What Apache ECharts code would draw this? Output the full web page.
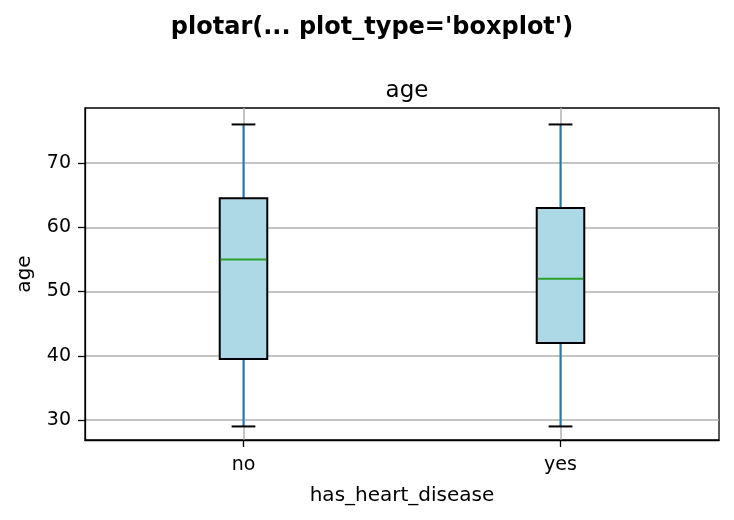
<!DOCTYPE html>
<html>
<head>
<meta charset="utf-8">
<script src="https://cdn.jsdelivr.net/npm/echarts@6/dist/echarts.min.js"></script>
<style>
  html, body { margin: 0; padding: 0; background: #fff; }
  #chart { width: 734px; height: 520px; }
</style>
</head>
<body>
<div id="chart"></div>
<script>
// 数据
var categories = ['no', 'yes'];
var whiskerLow = [29, 29];
var q1 = [39.5, 42];
var median = [55, 52];
var q3 = [64.5, 63];
var whiskerHigh = [76, 76];
var yTicks = [30, 40, 50, 60, 70];

(function () {
    var myChart = echarts.init(document.getElementById('chart'));
    var font = 'DejaVu Sans';

    var boxData = categories.map(function (c, i) {
        return [i, whiskerLow[i], q1[i], median[i], q3[i], whiskerHigh[i]];
    });

    // 画箱线图：须线蓝色，盒子黑边浅蓝填充，中位数绿色
    function renderBox(params, api) {
        var x = api.value(0);
        var pLow = api.coord([x, api.value(1)]);
        var pQ1 = api.coord([x, api.value(2)]);
        var pMed = api.coord([x, api.value(3)]);
        var pQ3 = api.coord([x, api.value(4)]);
        var pHigh = api.coord([x, api.value(5)]);
        var bw = api.size([1, 0])[0] * 0.15;
        var cx = pMed[0];
        return {
            type: 'group',
            children: [
                { type: 'line', shape: { x1: cx, y1: pLow[1], x2: cx, y2: pQ1[1] },
                  style: { stroke: '#1f77b4', lineWidth: 2 } },
                { type: 'line', shape: { x1: cx, y1: pQ3[1], x2: cx, y2: pHigh[1] },
                  style: { stroke: '#1f77b4', lineWidth: 2 } },
                { type: 'line', shape: { x1: cx - bw / 4, y1: pLow[1], x2: cx + bw / 4, y2: pLow[1] },
                  style: { stroke: '#000', lineWidth: 2 } },
                { type: 'line', shape: { x1: cx - bw / 4, y1: pHigh[1], x2: cx + bw / 4, y2: pHigh[1] },
                  style: { stroke: '#000', lineWidth: 2 } },
                { type: 'rect', shape: { x: cx - bw / 2, y: pQ3[1], width: bw, height: pQ1[1] - pQ3[1] },
                  style: { fill: '#add8e6', stroke: '#000', lineWidth: 2 } },
                { type: 'line', shape: { x1: cx - bw / 2 + 1, y1: pMed[1], x2: cx + bw / 2 - 1, y2: pMed[1] },
                  style: { stroke: '#2ca02c', lineWidth: 2 } }
            ]
        };
    }

    var option = {
        animation: false,
        backgroundColor: '#fff',
        textStyle: { fontFamily: font },
        title: [
            {
                text: "plotar(... plot_type='boxplot')",
                left: 367, top: 11, textAlign: 'center',
                textStyle: { fontFamily: font, fontSize: 24, fontWeight: 'bold', color: '#000' }
            },
            {
                text: 'age',
                left: 402, top: 75, textAlign: 'center',
                textStyle: { fontFamily: font, fontSize: 23, fontWeight: 'normal', color: '#000' }
            }
        ],
        grid: {
            left: 85, right: 15, top: 108, bottom: 80,
            show: true, borderColor: '#000', borderWidth: 1.3, backgroundColor: 'transparent'
        },
        xAxis: {
            type: 'category',
            data: categories,
            boundaryGap: true,
            name: 'has_heart_disease',
            nameLocation: 'middle',
            nameGap: 46,
            nameTextStyle: { fontFamily: font, fontSize: 20, color: '#000' },
            axisLine: { show: true, lineStyle: { color: '#000', width: 1.3 } },
            axisTick: { show: true, alignWithLabel: true, length: 7, lineStyle: { color: '#000', width: 1.3 } },
            axisLabel: { fontFamily: font, fontSize: 19, color: '#000', margin: 16 },
            splitLine: { show: true, alignWithLabel: true, lineStyle: { color: '#b0b0b0', width: 1.5 } }
        },
        yAxis: {
            type: 'value',
            min: 26.89,
            max: 78.56,
            interval: 10,
            name: 'age',
            nameLocation: 'middle',
            nameGap: 50,
            nameTextStyle: { fontFamily: font, fontSize: 20, color: '#000' },
            axisLine: { show: true, lineStyle: { color: '#000', width: 1.3 } },
            axisTick: { show: true, length: 7, lineStyle: { color: '#000', width: 1.3 },
                customValues: yTicks },
            axisLabel: { fontFamily: font, fontSize: 19, color: '#000', margin: 14,
                customValues: yTicks },
            splitLine: { show: true, lineStyle: { color: '#b0b0b0', width: 1.5 } }
        },
        series: [
            {
                type: 'custom',
                renderItem: renderBox,
                encode: { x: 0, y: [1, 2, 3, 4, 5] },
                data: boxData,
                z: 10
            }
        ]
    };
    myChart.setOption(option);
    window.addEventListener('resize', function () {
        myChart.resize();
    });
})();
</script>
</body>
</html>
